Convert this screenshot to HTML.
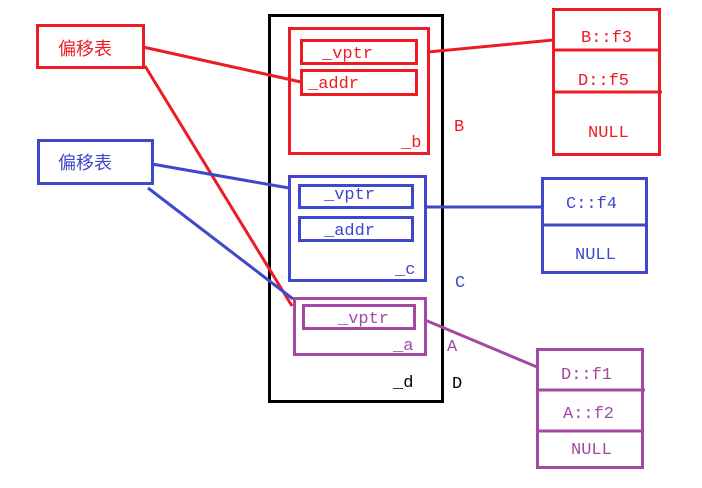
<!DOCTYPE html>
<html><head><meta charset="utf-8"><style>
html,body{margin:0;padding:0;background:#fff;}
svg{display:block;}
text{font-family:"Liberation Mono","Noto Serif CJK SC",monospace;font-size:17px;}
.cj{font-family:"Liberation Sans","Noto Sans CJK SC",sans-serif;font-size:18px;}
</style></head><body>
<svg width="702" height="488" viewBox="0 0 702 488" xmlns="http://www.w3.org/2000/svg">
<g fill="none" stroke-width="3">
<rect x="269.5" y="15.5" width="173" height="386" stroke="#000"/>
<!-- B -->
<g stroke="#ed1c24">
<rect x="289.5" y="28.5" width="139" height="125"/>
<rect x="301.5" y="40.5" width="115" height="23"/>
<rect x="301.5" y="70.5" width="115" height="24"/>
<rect x="553.5" y="9.5" width="106" height="145"/>
<line x1="553" y1="50" x2="659" y2="50"/>
<line x1="553" y1="92" x2="662" y2="92"/>
<rect x="37.5" y="25.5" width="106" height="42"/>
<line x1="428" y1="52" x2="553" y2="40"/>
<line x1="143" y1="47" x2="301" y2="82"/>
<line x1="145" y1="66" x2="292" y2="306"/>
</g>
<!-- C -->
<g stroke="#3f48cc">
<rect x="289.5" y="176.5" width="136" height="104"/>
<rect x="299.5" y="185.5" width="113" height="22"/>
<rect x="299.5" y="217.5" width="113" height="23"/>
<rect x="542.5" y="178.5" width="104" height="94"/>
<line x1="542" y1="225" x2="646" y2="225"/>
<rect x="38.5" y="140.5" width="114" height="43"/>
<line x1="425" y1="207" x2="542" y2="207"/>
<line x1="152" y1="164" x2="289" y2="188"/>
<line x1="148" y1="188" x2="293" y2="299"/>
</g>
<!-- A -->
<g stroke="#a349a4">
<rect x="294.5" y="298.5" width="131" height="56"/>
<rect x="303.5" y="305.5" width="111" height="23"/>
<rect x="537.5" y="349.5" width="105" height="118"/>
<line x1="537" y1="390" x2="645" y2="390"/>
<line x1="537" y1="431" x2="642" y2="431"/>
<line x1="425" y1="320" x2="537" y2="367"/>
</g>
</g>
<g fill="#ed1c24">
<text x="322" y="58">_vptr</text>
<text x="308" y="88">_addr</text>
<text x="401" y="147">_b</text>
<text x="454" y="131">B</text>
<text x="581" y="42">B::f3</text>
<text x="578" y="85">D::f5</text>
<text x="588" y="137">NULL</text>
<text class="cj" x="58" y="55">偏移表</text>
</g>
<g fill="#3f48cc">
<text x="324" y="191" dy="8">_vptr</text>
<text x="324" y="235">_addr</text>
<text x="395" y="274">_c</text>
<text x="455" y="287">C</text>
<text x="566" y="208">C::f4</text>
<text x="575" y="259">NULL</text>
<text class="cj" x="58" y="169">偏移表</text>
</g>
<g fill="#a349a4">
<text x="338" y="323">_vptr</text>
<text x="393" y="350">_a</text>
<text x="447" y="351">A</text>
<text x="561" y="379">D::f1</text>
<text x="563" y="418">A::f2</text>
<text x="571" y="454">NULL</text>
</g>
<g fill="#000">
<text x="393" y="387">_d</text>
<text x="452" y="388">D</text>
</g>
</svg>
</body></html>
